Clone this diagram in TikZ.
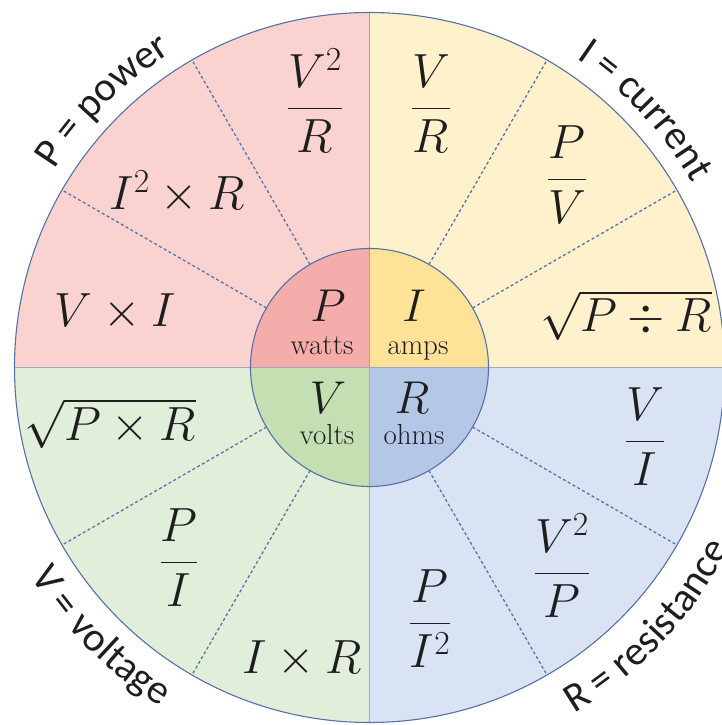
\documentclass[tikz,border=0pt]{standalone}
\usepackage{fix-cm}
\usepackage{fontspec}
\usetikzlibrary{decorations.text}
\newfontfamily\lblfont{Carlito}
\newcommand\lblsize{\fontsize{41}{49}\selectfont}
\definecolor{pinkout}{HTML}{FAD3D0}
\definecolor{pinkin}{HTML}{F4ADAB}
\definecolor{yellowout}{HTML}{FEF1CC}
\definecolor{yellowin}{HTML}{FEE297}
\definecolor{greenout}{HTML}{E1EED9}
\definecolor{greenin}{HTML}{C4DFB1}
\definecolor{blueout}{HTML}{D9E3F3}
\definecolor{bluein}{HTML}{B4C7E7}
\definecolor{sepblue}{HTML}{5B72A6}
\definecolor{rimblue}{HTML}{5670A8}
\definecolor{divgray}{HTML}{A3A7B8}
\definecolor{ink}{HTML}{1E1E1E}
\begin{document}
\begin{tikzpicture}[x=1pt,y=1pt,
  mth/.style={anchor=base,inner sep=0pt,text=ink,font=\fontsize{48}{58}\selectfont},
  sym/.style={anchor=base,inner sep=0pt,text=ink,font=\fontsize{46}{55}\selectfont},
  unitlbl/.style={anchor=base,inner sep=0pt,text=ink,font=\fontsize{29}{35}\selectfont},
  sepline/.style={draw=sepblue,line width=1.3pt,dash pattern=on 3pt off 2.5pt},
  divider/.style={draw=divgray,line width=1.6pt},
  rim/.style={draw=rimblue,line width=1.1pt}
]
\useasboundingbox (-369.5,-357.5) rectangle (351.5,367.5);
% outer quadrants
\fill[pinkout]   (0,0) -- (180:355) arc[start angle=180,end angle=90,radius=355] -- cycle;
\fill[yellowout] (0,0) -- (90:355) arc[start angle=90,end angle=0,radius=355] -- cycle;
\fill[greenout]  (0,0) -- (180:355) arc[start angle=180,end angle=270,radius=355] -- cycle;
\fill[blueout]   (0,0) -- (270:355) arc[start angle=270,end angle=360,radius=355] -- cycle;
% dashed separators
\foreach \a in {30,60,120,150,210,240,300,330}
  \draw[sepline] (\a:119) -- (\a:355);
% inner quadrants
\fill[pinkin]   (0,0) -- (180:119) arc[start angle=180,end angle=90,radius=119] -- cycle;
\fill[yellowin] (0,0) -- (90:119) arc[start angle=90,end angle=0,radius=119] -- cycle;
\fill[greenin]  (0,0) -- (180:119) arc[start angle=180,end angle=270,radius=119] -- cycle;
\fill[bluein]   (0,0) -- (270:119) arc[start angle=270,end angle=360,radius=119] -- cycle;
% dividers
\draw[divider] (-355,0) -- (355,0);
\draw[divider] (0,-355) -- (0,355);
% rims
\draw[rim] (0,0) circle[radius=355];
\draw[rim] (0,0) circle[radius=119];
% centre labels
\node[sym] (P) at (-41.5,45.5) {$P$};
\node[unitlbl] (watts) at (-47.5,12.5) {watts};
\node[sym] (I) at (44.5,45.5) {$I$};
\node[unitlbl] (amps) at (48.5,12.5) {amps};
\node[sym] (V) at (-41.5,-45.5) {$V$};
\node[unitlbl] (volts) at (-42.5,-76.5) {volts};
\node[sym] (R) at (42.5,-45.5) {$R$};
\node[unitlbl] (ohms) at (44.5,-76.5) {ohms};
% power formulas
\node[mth] (p1) at (-54.5,247.5) {$\displaystyle\frac{V^2}{R}$};
\node[mth] (p2) at (-192.5,157.5) {$I^2\times R$};
\node[mth] (p3) at (-254.5,40.5) {$V\times I$};
% current formulas
\node[mth] (i1) at (61.5,247.5) {$\displaystyle\frac{V}{R}$};
\node[mth] (i2) at (197.5,176.5) {$\displaystyle\frac{P}{V}$};
\node[mth] (i3) at (256.5,35.5) {$\sqrt{P\div R}$};
% voltage formulas
\node[mth] (v1) at (-259.5,-72.5) {$\sqrt{P\times R}$};
\node[mth] (v2) at (-190.5,-206.5) {$\displaystyle\frac{P}{I}$};
\node[mth] (v3) at (-67.5,-305.5) {$I\times R$};
% resistance formulas
\node[mth] (r1) at (275.5,-85.5) {$\displaystyle\frac{V}{I}$};
\node[mth] (r2) at (192.5,-217.5) {$\displaystyle\frac{V^2}{P}$};
\node[mth] (r3) at (60.5,-267.5) {$\displaystyle\frac{P}{I^2}$};
% outer curved labels
\path[decorate,decoration={text along path,text align=center,
  text color=ink,text={|\lblfont\lblsize|P = power}}]
  (175:372) arc[start angle=175,end angle=95,radius=372];
\path[decorate,decoration={text along path,text align=center,
  text color=ink,text={|\lblfont\lblsize|I = current}}]
  (83:372) arc[start angle=83,end angle=3,radius=372];
\path[decorate,decoration={text along path,text align=center,
  text color=ink,text={|\lblfont\lblsize|V = voltage}}]
  (185:398) arc[start angle=185,end angle=265,radius=398];
\path[decorate,decoration={text along path,text align=center,
  text color=ink,text={|\lblfont\lblsize|R = resistance}}]
  (-83:402) arc[start angle=-83,end angle=-3,radius=402];
\end{tikzpicture}
\end{document}
